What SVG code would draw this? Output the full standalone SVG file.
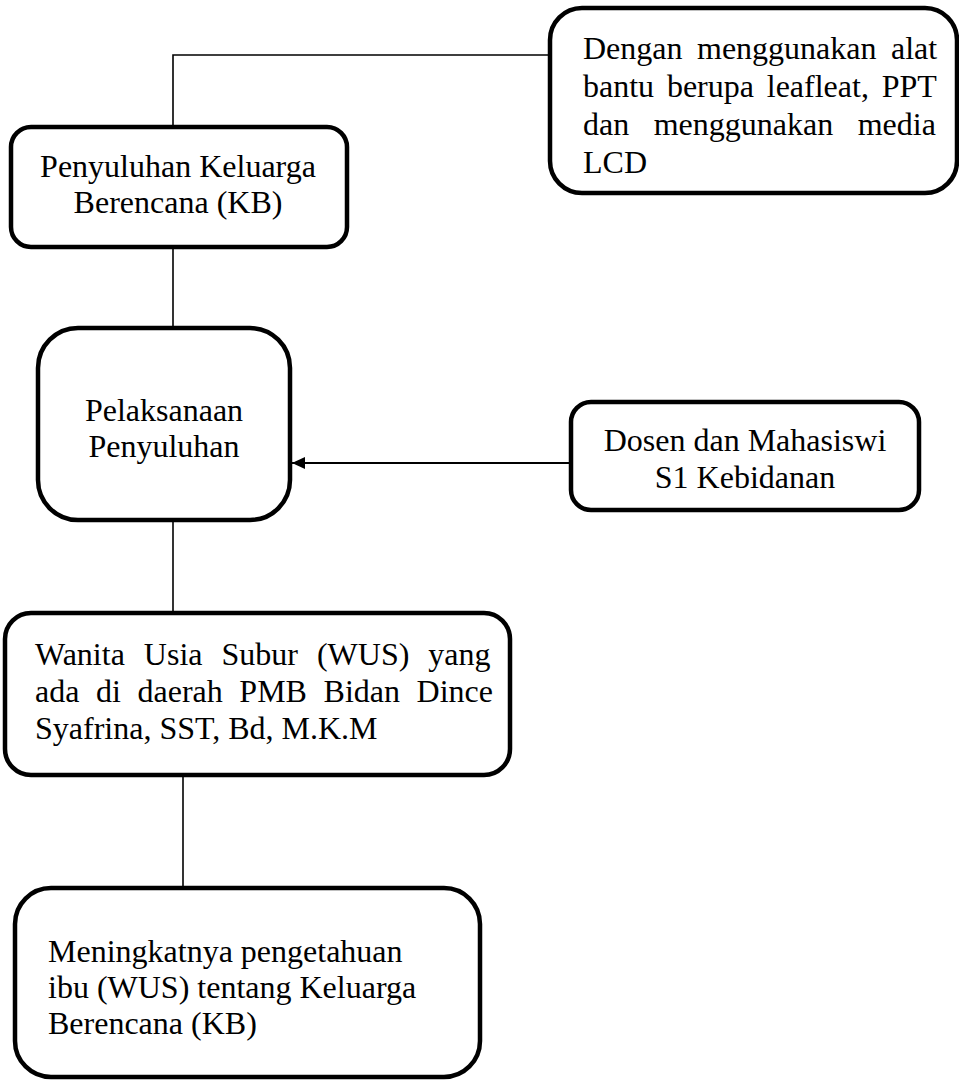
<svg xmlns="http://www.w3.org/2000/svg" width="959" height="1080" viewBox="0 0 959 1080">
<defs>
<style>
.box{fill:#fff;stroke:#000;stroke-width:4.5}
.ln{fill:none;stroke:#000;stroke-width:1.6}
.t{font-family:"Liberation Serif","Times New Roman",serif;font-size:32px;fill:#000}
.c{text-anchor:middle}
</style>
<marker id="arr" viewBox="0 0 13 12" refX="13" refY="6" markerWidth="13" markerHeight="12" markerUnits="userSpaceOnUse" orient="auto">
<path d="M0,0 L13,6 L0,12 Z" fill="#000"/>
</marker>
</defs>
<rect width="959" height="1080" fill="#fff"/>
<g id="connectors">
<polyline class="ln" points="550,55 173,55 173,127"/>
<line class="ln" x1="173" y1="247" x2="173" y2="328"/>
<line class="ln" x1="571" y1="463" x2="292" y2="463" marker-end="url(#arr)" style="stroke-width:2"/>
<line class="ln" x1="173" y1="520" x2="173" y2="613"/>
<line class="ln" x1="183" y1="775" x2="183" y2="888"/>
</g>
<g id="node-alat">
<rect class="box" x="550" y="8" width="407" height="185" rx="32"/>
<text class="t" x="583" y="59" word-spacing="6.5">Dengan menggunakan alat</text>
<text class="t" x="583" y="97" word-spacing="4.8">bantu berupa leafleat, PPT</text>
<text class="t" x="583" y="135" word-spacing="16.5">dan menggunakan media</text>
<text class="t" x="583" y="173">LCD</text>
</g>
<g id="node-penyuluhan">
<rect class="box" x="11" y="127" width="336" height="120" rx="20"/>
<text class="t c" x="178" y="177">Penyuluhan Keluarga</text>
<text class="t c" x="178" y="213">Berencana (KB)</text>
</g>
<g id="node-pelaksanaan">
<rect class="box" x="38" y="328" width="252" height="192" rx="40"/>
<text class="t c" x="164" y="421">Pelaksanaan</text>
<text class="t c" x="164" y="457">Penyuluhan</text>
</g>
<g id="node-dosen">
<rect class="box" x="571" y="402" width="348" height="108" rx="20"/>
<text class="t c" x="745" y="451">Dosen dan Mahasiswi</text>
<text class="t c" x="745" y="488">S1 Kebidanan</text>
</g>
<g id="node-wus">
<rect class="box" x="5" y="613" width="505" height="162" rx="26"/>
<text class="t" x="35" y="665" word-spacing="11">Wanita Usia Subur (WUS) yang</text>
<text class="t" x="35" y="702" word-spacing="8.6">ada di daerah PMB Bidan Dince</text>
<text class="t" x="35" y="739">Syafrina, SST, Bd, M.K.M</text>
</g>
<g id="node-hasil">
<rect class="box" x="15" y="888" width="465" height="189" rx="36"/>
<text class="t" x="48" y="962">Meningkatnya pengetahuan</text>
<text class="t" x="48" y="998">ibu (WUS) tentang Keluarga</text>
<text class="t" x="48" y="1034">Berencana (KB)</text>
</g>
</svg>
